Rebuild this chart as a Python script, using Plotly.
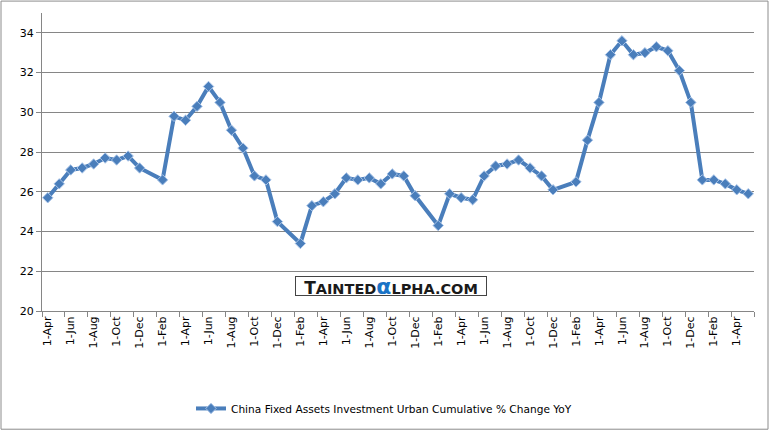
import plotly.graph_objects as go

months = [
    "2005-04", "2005-05", "2005-06", "2005-07", "2005-08", "2005-09", "2005-10", "2005-11", "2005-12",
    "2006-02", "2006-03", "2006-04", "2006-05", "2006-06", "2006-07", "2006-08", "2006-09", "2006-10", "2006-11", "2006-12",
    "2007-02", "2007-03", "2007-04", "2007-05", "2007-06", "2007-07", "2007-08", "2007-09", "2007-10", "2007-11", "2007-12",
    "2008-02", "2008-03", "2008-04", "2008-05", "2008-06", "2008-07", "2008-08", "2008-09", "2008-10", "2008-11", "2008-12",
    "2009-02", "2009-03", "2009-04", "2009-05", "2009-06", "2009-07", "2009-08", "2009-09", "2009-10", "2009-11", "2009-12",
    "2010-01", "2010-02", "2010-03", "2010-04", "2010-05",
]
fai_yoy = [
    25.7, 26.4, 27.1, 27.2, 27.4, 27.7, 27.6, 27.8, 27.2,
    26.6, 29.8, 29.6, 30.3, 31.3, 30.5, 29.1, 28.2, 26.8, 26.6, 24.5,
    23.4, 25.3, 25.5, 25.9, 26.7, 26.6, 26.7, 26.4, 26.9, 26.8, 25.8,
    24.3, 25.9, 25.7, 25.6, 26.8, 27.3, 27.4, 27.6, 27.2, 26.8, 26.1,
    26.5, 28.6, 30.5, 32.9, 33.6, 32.9, 33.0, 33.3, 33.1, 32.1, 30.5,
    26.6, 26.6, 26.4, 26.1, 25.9,
]
tick_labels = ["1-Apr", "1-Jun", "1-Aug", "1-Oct", "1-Dec", "1-Feb"] * 5 + ["1-Apr"]
series_name = "China Fixed Assets Investment Urban Cumulative % Change YoY"

# month index relative to Apr 2005
x_idx = [(int(m[:4]) - 2005) * 12 + int(m[5:]) - 4 for m in months]
tick_pos = [2 * i for i in range(len(tick_labels))]

FONT = "DejaVu Sans"
GRID = "#868686"
BLUE = "#4a7ebb"

fig = go.Figure()
fig.add_trace(go.Scatter(
    x=x_idx, y=fai_yoy, mode="lines+markers", name=series_name,
    line=dict(color=BLUE, width=4),
    marker=dict(symbol="diamond", size=8, color=BLUE, line=dict(color="#a9c4e8", width=1)),
))

fig.update_layout(
    width=771, height=435,
    margin=dict(l=42, r=17, t=13, b=122),
    paper_bgcolor="white", plot_bgcolor="white",
    font=dict(family=FONT, size=11, color="#000000"),
    showlegend=True,
    legend=dict(orientation="h", x=(384 - 42) / 712, xanchor="center", y=-0.327, yanchor="middle",
                font=dict(family=FONT, size=10.6), bgcolor="rgba(0,0,0,0)"),
    xaxis=dict(
        range=[-0.5, 61.5], tickmode="array", tickvals=tick_pos, ticktext=tick_labels,
        tickangle=-90, ticks="", showgrid=False, zeroline=False,
        showline=True, linecolor=GRID, linewidth=1,
        tickfont=dict(family=FONT, size=11),
        minor=dict(ticks="outside", tick0=-0.5, dtick=2, ticklen=5, tickcolor=GRID, showgrid=False),
    ),
    yaxis=dict(
        range=[20, 35], tick0=20, dtick=2, ticks="outside", ticklen=5, tickcolor=GRID,
        showgrid=True, gridcolor=GRID, gridwidth=1, zeroline=False,
        showline=True, linecolor=GRID, linewidth=1,
        tickfont=dict(family=FONT, size=11),
    ),
)

# outer chart border
fig.add_shape(type="rect", xref="paper", yref="paper",
              x0=(1 - 42) / 712, x1=(768 - 42) / 712, y0=(313 - 432) / 300, y1=(313 - 1) / 300,
              line=dict(color="#8c8c8c", width=1), fillcolor="rgba(0,0,0,0)", layer="below")

# watermark
fig.add_annotation(
    xref="paper", yref="paper", x=(391 - 42) / 712, y=(313 - 297.5) / 300,
    showarrow=False, bgcolor="white", bordercolor="#444444", borderwidth=1, borderpad=1,
    width=188, height=16,
    text=("<b>T<span style='font-size:14.5px'>AINTED</span>"
          "<span style='color:#1a73c6;font-size:22px'>α</span>"
          "<span style='font-size:14.5px'>LPHA.COM</span></b>"),
    font=dict(family=FONT, size=17, color="#1a1a1a"),
)

fig.write_html("out.html", config={"displayModeBar": False},
               post_script="document.body.style.margin='0';")
